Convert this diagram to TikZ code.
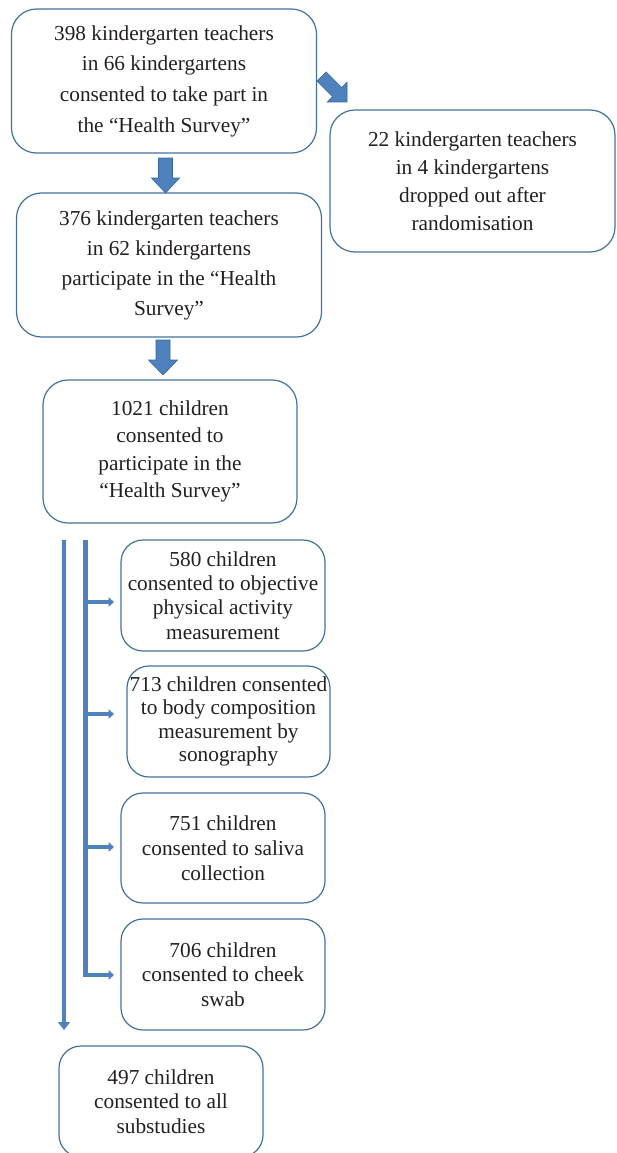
\documentclass[tikz,border=0pt]{standalone}
\usepackage{fontspec}
\setmainfont{Liberation Serif}
\usetikzlibrary{arrows.meta}
\definecolor{boxblue}{HTML}{41719C}
\definecolor{arrowfill}{HTML}{4F81BD}
\definecolor{arrowedge}{HTML}{3A679A}
\definecolor{txt}{HTML}{231F20}
\begin{document}
\begin{tikzpicture}[x=1pt,y=-1pt,
  box/.style={draw=boxblue, line width=1.2pt, rounded corners=22pt, inner sep=0pt, align=center, text=txt},
  fs/.style={font=\fontsize{21.3}{#1}\selectfont},
  blockarr/.style={fill=arrowfill, draw=arrowedge, line width=0.6pt, line join=miter},
  vline/.style={draw=arrowfill, line width=4.6pt},
  harr/.style={draw=arrowfill, line width=3.4pt, -{Triangle[length=5.5pt,width=9.5pt]}}]
\useasboundingbox (0,0) rectangle (616,1153);

\node[box, fs=30.7, rounded corners=25pt, minimum width=305pt, minimum height=144pt] (b1) at (164,81)
  {398 kindergarten teachers\\in 66 kindergartens\\consented to take part in\\the “Health Survey”};
\node[box, fs=28, rounded corners=25pt, minimum width=285pt, minimum height=142pt] (drop) at (472.5,181)
  {22 kindergarten teachers\\in 4 kindergartens\\dropped out after\\randomisation};
\node[box, fs=30, rounded corners=25pt, minimum width=305pt, minimum height=144pt] (b2) at (169,265)
  {376 kindergarten teachers\\in 62 kindergartens\\participate in the “Health\\Survey”};
\node[box, fs=27.3, rounded corners=25pt, minimum width=254pt, minimum height=143pt] (b3) at (170,451.5)
  {1021 children\\consented to\\participate in the\\“Health Survey”};
\node[box, fs=24.3, minimum width=204pt, minimum height=111pt] (b4) at (223,595.5)
  {580 children\\consented to objective\\physical activity\\measurement};
\node[box, fs=23.2, minimum width=203pt, minimum height=111pt] (b5) at (228.5,721.5)
  {713 children consented\\to body composition\\measurement by\\sonography};
\node[box, fs=25, minimum width=204pt, minimum height=110pt] (b6) at (223,848)
  {751 children\\consented to saliva\\collection};
\node[box, fs=24.5, minimum width=204pt, minimum height=111pt] (b7) at (223,974.5)
  {706 children\\consented to cheek\\swab};
\node[box, fs=24.5, minimum width=204pt, minimum height=111pt] (b8) at (161,1101.5)
  {497 children\\consented to all\\substudies};

% block arrows
\filldraw[blockarr] (158.5,158) -- (172.5,158) -- (172.5,178) -- (179.5,178) -- (165.5,193)
  -- (151.5,178) -- (158.5,178) -- cycle;
\filldraw[blockarr] (156,340) -- (170,340) -- (170,360) -- (177.5,360) -- (163,375)
  -- (148.5,360) -- (156,360) -- cycle;
\filldraw[blockarr] (326.1,71.9) -- (341.7,87.5) -- (347,82.2) -- (347,102) -- (327.2,102)
  -- (332.5,96.7) -- (316.9,81.1) -- cycle;

% vertical lines
\coordinate (v1top) at (64,540);
\coordinate (v1bot) at (64,1030);
\coordinate (v2top) at (85.5,540);
\coordinate (v2bot) at (85.5,977);
\draw[vline, -{Triangle[length=8pt,width=12pt]}] (v1top) -- (v1bot);
\draw[vline] (v2top) -- (v2bot);

\coordinate (a1) at (114,602);
\coordinate (a2) at (114,714);
\coordinate (a3) at (114,847);
\coordinate (a4) at (114,975);
\draw[harr] (v2top |- a1) -- (a1);
\draw[harr] (v2top |- a2) -- (a2);
\draw[harr] (v2top |- a3) -- (a3);
\draw[harr] ([xshift=-2.3pt]v2top |- a4) -- (a4);
\end{tikzpicture}
\end{document}
